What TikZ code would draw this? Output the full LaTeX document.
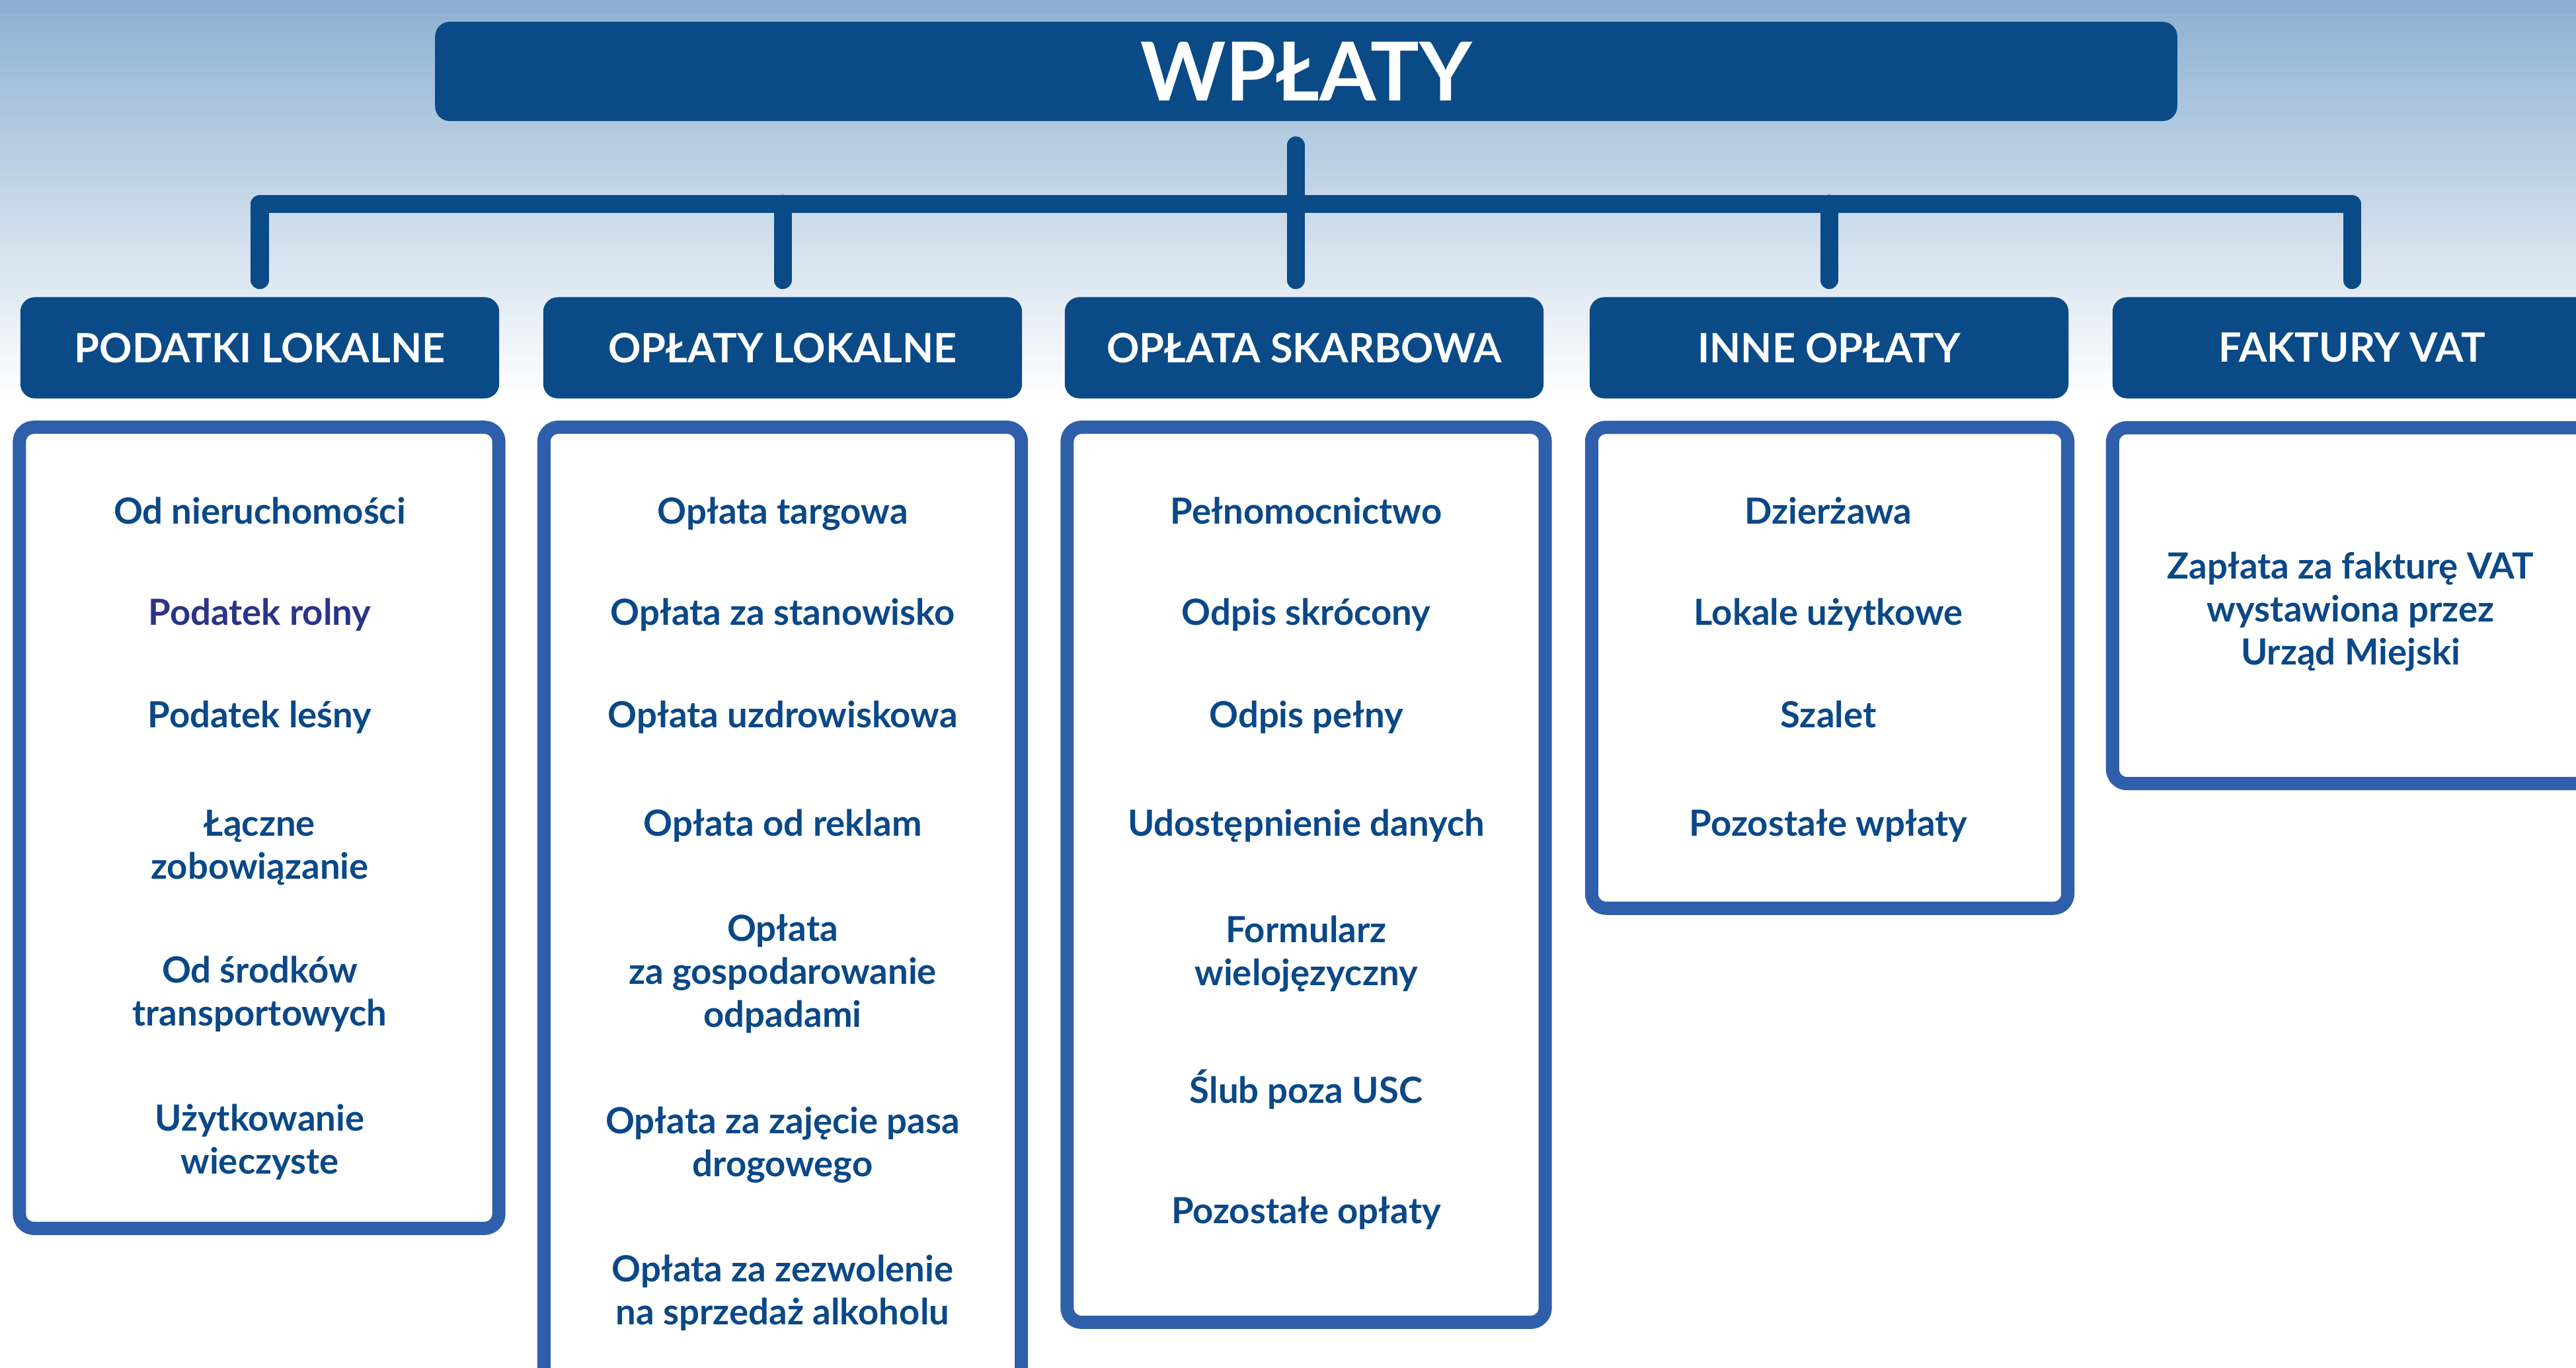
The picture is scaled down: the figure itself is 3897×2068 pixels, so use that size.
\documentclass[tikz,border=0pt]{standalone}
\usepackage{fontspec}
\setmainfont{Lato}
\definecolor{dblue}{RGB}{10,74,135}
\definecolor{bblue}{RGB}{47,95,170}
\definecolor{tblue}{RGB}{10,72,135}
\definecolor{pblue}{RGB}{43,52,135}
\definecolor{bgtop}{RGB}{141,176,210}
\tikzset{
  hdr/.style={fill=dblue, rounded corners=0.22cm, minimum width=7.24cm, minimum height=1.53cm,
    text=white, font=\fontsize{17.4pt}{20pt}\selectfont\bfseries, inner sep=0pt},
  ttl/.style={fill=dblue, rounded corners=0.22cm, minimum width=26.34cm, minimum height=1.50cm,
    text=white, font=\fontsize{35pt}{40pt}\selectfont\bfseries, inner sep=0pt},
  cbox/.style={draw=bblue, fill=white, line width=0.2cm, rounded corners=0.22cm, inner sep=0pt},
  item/.style={text=tblue, align=center, font=\fontsize{15.5pt}{18.5pt}\selectfont\bfseries, inner sep=0pt},
  line1/.style={item, anchor=base},
  conn/.style={draw=dblue, line width=0.27cm, line cap=round, line join=round},
}
\begin{document}
\begin{tikzpicture}[x=0.01cm, y=-0.01cm]
\useasboundingbox (0,0) rectangle (3897,2068);
\clip (0,0) rectangle (3897,2068);
\shade[top color=bgtop, bottom color=white] (0,0) rectangle (3897,600);
\fill[bgtop] (0,0) rectangle (3897,20);

\node[ttl] (title) at (1976,108) {WPŁATY};

\node[hdr] (h1) at (393,526) {\raisebox{-0.11cm}{PODATKI LOKALNE}};
\node[hdr] (h2) at (1184,526) {\raisebox{-0.11cm}{OPŁATY LOKALNE}};
\node[hdr] (h3) at (1973,526) {\raisebox{-0.11cm}{OPŁATA SKARBOWA}};
\node[hdr] (h4) at (2767,526) {\raisebox{-0.11cm}{INNE OPŁATY}};
\node[hdr] (h5) at (3558,526) {\raisebox{-0.11cm}{FAKTURY VAT}};

\coordinate (bar) at (0,308);
\draw[conn, shorten <=0.25cm, shorten >=0.25cm] (h1.north) |- (h5.north |- bar) -- (h5.north);
\draw[conn, shorten <=0.25cm] (h2.north) -- (h2.north |- bar);
\draw[conn, shorten <=0.25cm] ([xshift=-0.13cm]h3.north) -- ([xshift=-0.13cm]h3.north |- bar);
\draw[conn, shorten <=0.25cm] (h4.north) -- (h4.north |- bar);
\draw[conn, shorten <=0.36cm] ([xshift=-0.16cm]title.south) -- ([xshift=-0.16cm]title.south |- bar);

\node[cbox, minimum width=7.25cm, minimum height=12.11cm] (bx1) at (392,1252) {};
\node[cbox, minimum width=7.22cm, minimum height=14.53cm] (bx2) at (1184,1373) {};
\node[cbox, minimum width=7.23cm, minimum height=13.53cm] (bx3) at (1976,1323) {};
\node[cbox, minimum width=7.20cm, minimum height=7.27cm] (bx4) at (2768,1010) {};
\node[cbox, minimum width=7.20cm, minimum height=5.38cm] (bx5) at (3556,916) {};

% box 1
\node[line1] (p1) at (393,792) {Od nieruchomości};
\node[line1, text=pblue] (p2) at (393,945) {Podatek rolny};
\node[line1] (p3) at (393,1100) {Podatek leśny};
\node[item] (p4) at (393,1282) {Łączne\\zobowiązanie};
\node[item] (p5) at (393,1503) {Od środków\\transportowych};
\node[item] (p6) at (393,1727) {Użytkowanie\\wieczyste};
% box 2
\node[line1] (o1) at (1184,792) {Opłata targowa};
\node[line1] (o2) at (1184,945) {Opłata za stanowisko};
\node[line1] (o3) at (1184,1100) {Opłata uzdrowiskowa};
\node[line1] (o4) at (1184,1264) {Opłata od reklam};
\node[item] (o5) at (1184,1473) {Opłata\\za gospodarowanie\\odpadami};
\node[item] (o6) at (1184,1732) {Opłata za zajęcie pasa\\drogowego};
\node[item] (o7) at (1184,1955) {Opłata za zezwolenie\\na sprzedaż alkoholu};
% box 3
\node[line1] (s1) at (1976,792) {Pełnomocnictwo};
\node[line1] (s2) at (1976,945) {Odpis skrócony};
\node[line1] (s3) at (1976,1100) {Odpis pełny};
\node[line1] (s4) at (1976,1264) {Udostępnienie danych};
\node[item] (s5) at (1976,1443) {Formularz\\wielojęzyczny};
\node[line1] (s6) at (1976,1668) {Ślub poza USC};
\node[line1] (s7) at (1976,1850) {Pozostałe opłaty};
% box 4
\node[line1] (i1) at (2766,792) {Dzierżawa};
\node[line1] (i2) at (2766,945) {Lokale użytkowe};
\node[line1] (i3) at (2766,1100) {Szalet};
\node[line1] (i4) at (2766,1264) {Pozostałe wpłaty};
% box 5
\node[item] (f1) at (3556,925) {Zapłata za fakturę VAT\\wystawiona przez\\Urząd Miejski};
\end{tikzpicture}
\end{document}
